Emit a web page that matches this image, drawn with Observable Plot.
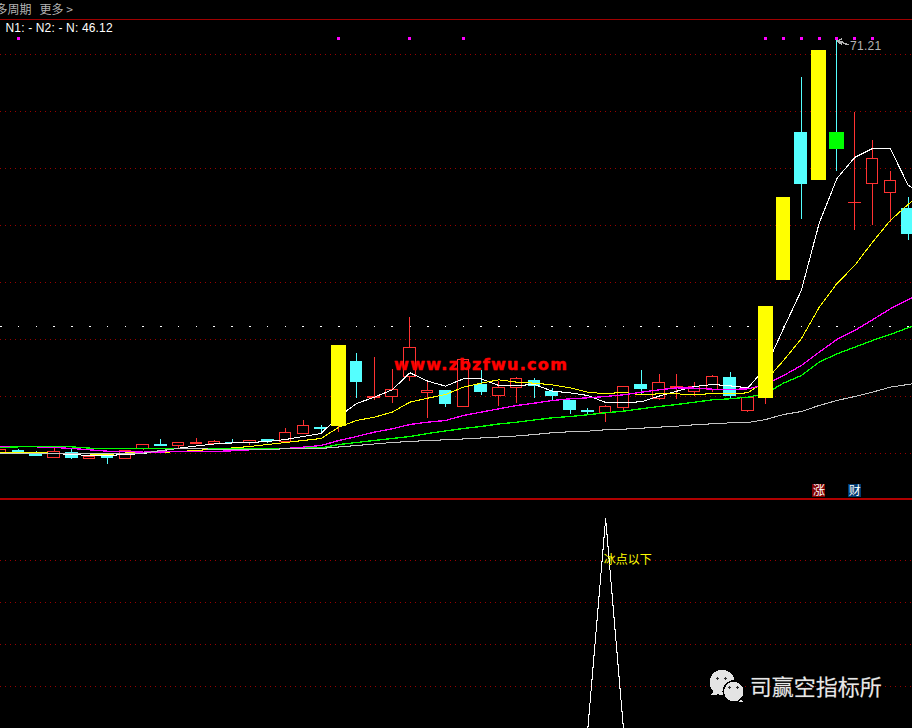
<!DOCTYPE html>
<html><head><meta charset="utf-8">
<script src="https://cdn.jsdelivr.net/npm/d3@7"></script>
<script src="https://cdn.jsdelivr.net/npm/@observablehq/plot@0.6"></script>
<style>
html,body{margin:0;padding:0;background:#000;overflow:hidden}
svg{display:block;shape-rendering:crispEdges;background:#000}
</style></head><body><div id="chart"></div>
<script>
// candle values (price), one entry per session
const bodyTop=[9.85,9.7,9.25,9.55,9.4,8.8,8.8,9.6,10.6,10.55,10.9,10.85,11.05,10.9,11.2,11.3,12.35,13.45,13.05,25.45,23.05,17.75,18.8,25.1,18.7,18.7,23.3,19.6,19.1,20.45,20.2,18.55,17.25,15.65,16.25,19.25,19.6,19.85,19.25,19.2,20.75,20.65,17.65,31.3,47.65,57.4,69.7,57.4,46.9,53.45,50.15,46];
const bodyBottom=[9.25,9.4,8.8,8.65,8.5,8.4,8.5,8.4,10,10.55,10.35,10.85,10.7,10.7,10.9,11.3,11,12.25,13.05,13.3,19.9,17.75,17.7,20.8,18.3,16.6,16.2,18.4,17.85,19.05,19.35,17.8,15.75,15.65,15.3,16.05,18.8,17.45,19.25,18.45,18.8,17.8,15.6,17.55,35.2,49.6,50.2,54.85,46.9,49.65,48.3,42.1];
const high=[9.85,9.85,9.55,10,9.85,8.8,9.1,9.6,10.6,11.35,10.9,11.5,11.2,11.35,11.2,11.3,13,14.2,13.45,25.45,24.25,23.7,21.85,29.65,19.95,18.7,23.3,21.7,20.1,20.7,20.45,19.05,17.25,16,16.45,19.25,21.7,21.1,21.1,19.85,20.95,21.35,17.65,31.3,47.65,65.65,69.7,71.2,60.4,56.2,51.55,47.65];
const low=[9.25,9.4,8.8,8.65,8.35,8.4,7.6,8.4,9.7,10.3,10.05,10.6,10.7,10.7,10.45,10.75,11,12.25,12.25,12.4,17.5,17.2,16.8,20.1,14.55,16.2,16.2,17.95,16.3,16.8,17.55,17.2,15.1,14.95,13.95,15.7,18.05,17.2,17.3,17.85,18.35,17.3,15.4,16.6,35.2,44.35,50.2,51.55,42.7,43.45,43.95,41.2];
const kindList=["r","c","c","r","c","r","c","r","r","c","r","r","r","c","r","c","r","r","c","y","c","r","r","r","r","c","r","c","r","r","c","c","c","c","r","r","c","r","r","r","r","c","r","y","y","c","y","g","r","r","r","c"];
// moving averages
const maWhite=[9.4,9.47,9.32,9.25,9.1,8.95,8.95,9.1,9.25,9.63,10.05,10.38,10.68,10.83,10.9,11.05,11.35,11.8,12.25,14.8,16.75,17.7,18.8,21.35,20.1,19.35,20.45,20.45,19.45,19.45,19.6,18.6,18.35,17.95,16.9,16.9,17,17.85,18.6,19.3,19.6,19.4,19.1,22.15,28,33.7,43.75,50.5,53.65,55,55,49.53,47.65];
const maYellow=[9.45,9.4,9.36,9.3,9.2,9.18,9.1,9.33,9.45,9.4,9.55,9.7,9.93,10.08,10.3,10.6,10.9,11.2,11.5,13.2,14.2,14.7,15.45,16.95,17.55,18.1,19.2,19.8,20.3,19.95,19.8,19.55,19.1,18.45,18.2,18.45,18.05,18.2,18.2,18.05,18.25,18.2,18.35,20.2,23.2,26.45,31.15,34.75,37.45,40.95,44.2,46.6,48.7];
const maMagenta=[10.35,10.3,10.25,10.15,10,9.8,9.6,9.55,9.45,9.48,9.55,9.55,9.55,9.65,9.8,9.85,10,10.2,10.45,11.2,11.8,12.45,12.95,13.6,13.95,14.2,14.95,15.45,15.95,16.45,16.8,17.2,17.45,17.6,17.8,18.05,18.45,18.8,19.1,19.05,18.9,18.85,18.95,19.6,20.95,22.45,24.45,26.35,27.7,29.3,30.95,32.3,33.7];
const maGreen=[10.15,10.25,10.25,10.25,10.25,10.05,10.05,10.05,10.05,10.05,10.05,10.05,10.05,10.05,10.05,10.05,10.05,10.05,10.08,10.6,10.9,11.2,11.5,11.8,12.25,12.63,13,13.3,13.68,13.95,14.28,14.61,14.8,15.06,15.36,15.6,15.96,16.3,16.6,16.95,17.3,17.46,17.7,18.25,19.8,20.95,22.95,24.2,25.2,26.2,27.1,28.1,29.05];
const maGray=[9.25,9.25,9.25,9.25,9.25,9.25,9.25,9.25,9.3,9.7,10,10.05,9.85,9.85,9.85,9.85,9.96,9.96,10,10.23,10.45,10.68,10.9,11.05,11.2,11.3,11.43,11.58,11.73,11.88,12.1,12.36,12.51,12.6,12.81,12.9,13.05,13.2,13.35,13.56,13.7,13.85,13.9,14.35,15.1,15.55,16.45,17.2,17.8,18.45,19.2,19.6,20.05];
// guides and signals
const gridUpper=[69.1,60.55,52,43.45,34.9,26.35,17.8,9.25];
const gridLower=[80,60,40,20];
const signalIdx=[1,19,23,26,43,44,45,46,47,48,49];
const signalLevel=71.5;
const dotRowLevel=28.3;
const tradeSignals=[{i:46,t:"涨"},{i:48,t:"财"}];
const oscX=[33,34,35], oscV=[0,100,0];
const peakLabel="71.21";
const arrowHeadX=[47.25,47.02,47.25], arrowHeadV=[71.4,71.05,70.7];
const arrowTailX=[47.02,47.3,47.45,47.65], arrowTailV=[71.05,70.95,70.7,70.6];

const RED="#ff3232",CYAN="#54ffff",YEL="#ffff00",GRN="#00ff00",MAG="#ff00ff";
const xs=d3.range(bodyTop.length);
const rows=xs.map(i=>({i,top:bodyTop[i],bot:bodyBottom[i],hi:high[i],lo:low[i],k:kindList[i]}));
const doji=rows.filter(d=>d.top===d.bot);
const solid=rows.filter(d=>d.top!==d.bot);
const upWick=d=>d.k==="r"||d.k==="y";
const lineOf=(vals,stroke,strokeWidth)=>Plot.line(vals.map((v,i)=>({i,v})),{x:"i",y:"v",stroke,strokeWidth,clip:true});
const xScale={domain:[0,51.25],range:[0.3,912],axis:null};
const UI="Liberation Sans";
const CJK="Noto Sans CJK SC";

const upper=Plot.plot({
  width:912,height:498,margin:0,style:{background:"#000"},
  x:xScale,
  y:{domain:[2.5,77.2],range:[498,0],axis:null},
  marks:[
    Plot.ruleY(gridUpper,{stroke:"#9a0000",strokeDasharray:"1,4"}),
    Plot.ruleY([74.35],{stroke:"#a00000",strokeWidth:1}),
    Plot.dot(xs,{x:d=>d,y:()=>dotRowLevel,r:0.8,fill:"#fff"}),
    Plot.ruleX(rows.filter(upWick),{x:"i",y1:"lo",y2:"hi",stroke:RED}),
    Plot.ruleX(rows.filter(d=>!upWick(d)),{x:"i",y1:"lo",y2:"hi",stroke:CYAN}),
    Plot.rect(solid.filter(d=>d.k==="r"),{x1:d=>d.i-0.32,x2:d=>d.i+0.32,y1:"bot",y2:"top",fill:"#000",stroke:RED}),
    Plot.rect(solid.filter(d=>d.k==="c"),{x1:d=>d.i-0.36,x2:d=>d.i+0.36,y1:"bot",y2:"top",fill:CYAN}),
    Plot.rect(solid.filter(d=>d.k==="g"),{x1:d=>d.i-0.42,x2:d=>d.i+0.42,y1:"bot",y2:"top",fill:GRN}),
    Plot.ruleY(doji.filter(d=>d.k==="r"),{y:"top",x1:d=>d.i-0.36,x2:d=>d.i+0.36,stroke:RED,strokeWidth:1.5}),
    Plot.ruleY(doji.filter(d=>d.k==="c"),{y:"top",x1:d=>d.i-0.36,x2:d=>d.i+0.36,stroke:CYAN,strokeWidth:1.5}),
    lineOf(maWhite,"#ffffff",1.05),
    lineOf(maYellow,YEL,1.05),
    lineOf(maMagenta,MAG,1.3),
    lineOf(maGreen,GRN,1.3),
    lineOf(maGray,"#c4c4c4",1.05),
    Plot.rect(solid.filter(d=>d.k==="y"),{x1:d=>d.i-0.42,x2:d=>d.i+0.42,y1:"bot",y2:"top",fill:YEL}),
    Plot.dot(signalIdx,{x:d=>d,y:()=>signalLevel,symbol:"square",r:1.7,fill:MAG}),
    Plot.line(arrowHeadX.map((x,j)=>({x,v:arrowHeadV[j]})),{x:"x",y:"v",stroke:"#b4b4b4"}),
    Plot.line(arrowTailX.map((x,j)=>({x,v:arrowTailV[j]})),{x:"x",y:"v",stroke:"#b4b4b4"}),
    Plot.text([peakLabel],{x:()=>47.74,y:()=>70.35,text:d=>d,fill:"#b4b4b4",fontSize:12,textAnchor:"start",fontFamily:UI,className:"peak"}),
    Plot.text(["www.zbzfwu.com"],{x:()=>27,y:()=>22.6,text:d=>d,fill:"#ff0000",stroke:"#ff0000",strokeWidth:0.5,fontSize:16,fontWeight:"bold",fontFamily:"DejaVu Sans",className:"wm"}),
    Plot.rect(tradeSignals.slice(0,1),{x1:d=>d.i-0.36,x2:d=>d.i+0.36,y1:()=>2.65,y2:()=>4.6,fill:"#800000"}),
    Plot.rect(tradeSignals.slice(1),{x1:d=>d.i-0.36,x2:d=>d.i+0.36,y1:()=>2.65,y2:()=>4.6,fill:"#003a70"}),
    Plot.text(tradeSignals,{x:"i",y:()=>3.6,text:"t",fill:"#fff",fontSize:12,fontFamily:CJK}),
    Plot.text(["多周期"],{frameAnchor:"top-left",dx:-5,dy:5,text:d=>d,fill:"#b4b4b4",fontSize:12,fontFamily:CJK}),
    Plot.text(["更多 >"],{frameAnchor:"top-left",dx:39,dy:5,text:d=>d,fill:"#b4b4b4",fontSize:12,fontFamily:CJK}),
    Plot.text(["N1: - N2: - N: 46.12"],{frameAnchor:"top-left",dx:5,dy:23,text:d=>d,fill:"#fff",fontSize:12,fontFamily:UI,className:"status"})
  ]
});

const bubbleBig=[{i:40.55,v:22}], bubbleSmall=[{i:41.2,v:17.6}];
const bubbleTails=[{i:40.12,v:16.8},{i:41.54,v:13.6}];
const eyes=[{i:40.29,v:23.8},{i:40.74,v:23.8},{i:40.96,v:19.5},{i:41.41,v:19.5}];
const lower=Plot.plot({
  width:912,height:230,margin:0,style:{background:"#000"},
  x:xScale,
  y:{domain:[0,100],range:[230,20],axis:null},
  marks:[
    Plot.ruleY(gridLower,{stroke:"#9a0000",strokeDasharray:"1,4"}),
    Plot.ruleY([109.28],{stroke:"#b00000",strokeWidth:1.2}),
    Plot.line(oscX.map((x,j)=>({x,v:oscV[j]})),{x:"x",y:"v",stroke:"#fff",strokeWidth:1.05}),
    Plot.text(["冰点以下"],{x:()=>33.9,y:()=>80,text:d=>d,fill:YEL,fontSize:12,textAnchor:"start",fontFamily:CJK}),
    Plot.dot(bubbleTails,{x:"i",y:"v",symbol:"triangle",r:2.5,fill:"#e4e4e4"}),
    Plot.dot(bubbleBig,{x:"i",y:"v",r:12.5,fill:"#e4e4e4"}),
    Plot.dot(bubbleSmall,{x:"i",y:"v",r:10.5,fill:"#e4e4e4",stroke:"#000",strokeWidth:1.5}),
    Plot.dot(eyes,{x:"i",y:"v",r:1.2,fill:"#333"}),
    Plot.text(["司赢空指标所"],{x:()=>42.1,y:()=>19.5,text:d=>d,fill:"#e8e8e8",fontSize:22,textAnchor:"start",fontFamily:CJK,stroke:"#555",strokeWidth:0.4})
  ]
});
d3.select(upper).selectAll(".wm text").style("letter-spacing","1.3px").style("shape-rendering","auto");
d3.select(upper).selectAll(".peak text").style("letter-spacing","0.25px");
d3.select(upper).selectAll(".status text").style("letter-spacing","0.16px");
const c=document.getElementById("chart");
c.append(upper,lower);
</script></body></html>
